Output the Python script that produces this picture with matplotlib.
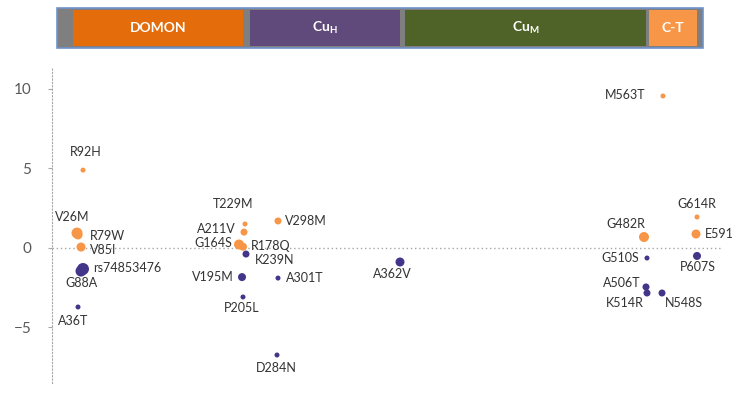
import matplotlib
matplotlib.use("Agg")
import matplotlib.pyplot as plt
from matplotlib.patches import Rectangle

plt.rcParams['font.family'] = ['Lato', 'DejaVu Sans']
plt.rcParams['mathtext.fontset'] = 'custom'
plt.rcParams['mathtext.rm'] = 'Lato'
plt.rcParams['mathtext.bf'] = 'Lato:bold'

# variants: name, position along the protein bar, score, size class, group
names = ["R92H", "V26M", "R79W", "V85I", "rs74853476", "G88A", "A36T",
         "T229M", "A211V", "G164S", "R178Q", "K239N", "V195M", "P205L",
         "V298M", "A301T", "D284N", "A362V",
         "M563T", "G614R", "G482R", "E591K", "G510S", "P607S",
         "A506T", "K514R", "N548S"]
pos = [31, 25, 26, 29, 31, 29, 26,
       193, 192, 187, 191, 194, 190, 191,
       226, 226, 225, 348,
       611, 645, 592, 644, 595, 645,
       594, 595, 610]
score = [4.87, 0.91, 0.79, 0.03, -1.35, -1.48, -3.74,
         1.48, 0.97, 0.19, 0.05, -0.41, -1.86, -3.11,
         1.67, -1.92, -6.76, -0.91,
         9.53, 1.92, 0.66, 0.85, -0.66, -0.53,
         -2.48, -2.86, -2.86]
size = [5, 11, 9, 9, 12, 11, 5,
        5, 7, 10, 8, 7, 8, 5,
        7, 5, 5, 9,
        5, 5, 10, 9, 5, 8,
        7, 7, 7]
group = ["o", "o", "o", "o", "p", "p", "p",
         "o", "o", "o", "o", "p", "p", "p",
         "o", "p", "p", "p",
         "o", "o", "o", "o", "p", "p",
         "p", "p", "p"]

# label offsets in pixels (dx, dy up) and alignment
offsets = {
    "R92H": (3, 18, "center"), "V26M": (-5, 16, "center"), "R79W": (12, -1, "left"),
    "V85I": (9, -3, "left"), "rs74853476": (10, 1, "left"), "G88A": (1, -12, "center"),
    "A36T": (-5, -14, "center"), "T229M": (-12, 20, "center"), "A211V": (-8, 3, "right"),
    "G164S": (-7, 2, "right"), "R178Q": (8, 1, "left"), "K239N": (9, -6, "left"),
    "V195M": (-8, 0, "right"), "P205L": (-1, -11, "center"), "V298M": (7, 0, "left"),
    "A301T": (8, 0, "left"), "D284N": (-1, -13, "center"), "A362V": (-8, -12, "center"),
    "M563T": (-18, 1, "right"), "G614R": (0, 13, "center"), "G482R": (-18, 13, "center"),
    "E591K": (9, 0, "left"), "G510S": (-8, 0, "right"), "P607S": (1, -11, "center"),
    "A506T": (-6, 4, "right"), "K514R": (-22, -10, "center"), "N548S": (22, -10, "center"),
}

# protein domains along the same position axis
dom_names = ["DOMON", r"$\mathbf{Cu_H}$", r"$\mathbf{Cu_M}$", "C-T"]
dom_start = [21, 198, 353, 597]
dom_end = [191, 348, 594, 645]
dom_colors = ["#E46C0A", "#604A7B", "#4F6228", "#F79646"]
bar_start, bar_end = 5, 651

colors = {"o": "#F79646", "p": "#43368A"}

W, H = 732, 403
fig = plt.figure(figsize=(W / 100, H / 100), dpi=100)
ax = fig.add_axes([52 / W, (H - 383) / H, (723 - 52) / W, (383 - 68) / H])
ax.set_xlim(0, 671)
ax.set_ylim(-8.52, 11.29)

for g in ["o", "p"]:
    xs = [p for p, gg in zip(pos, group) if gg == g]
    ys = [s for s, gg in zip(score, group) if gg == g]
    ss = [(d * 0.72) ** 2 for d, gg in zip(size, group) if gg == g]
    ax.scatter(xs, ys, s=ss, c=colors[g], edgecolors="none", zorder=3)

for n, x, y in zip(names, pos, score):
    dx, dy, ha = offsets[n]
    ax.annotate(n, (x, y), xytext=(dx, dy), textcoords="offset pixels",
                ha=ha, va="center", fontsize=9, color="#333333",
                annotation_clip=False)

ax.axhline(0, color="#A6A6A6", lw=1, ls=(0, (1, 2)), zorder=1)
for s in ["top", "right", "bottom"]:
    ax.spines[s].set_visible(False)
ax.spines["left"].set_color("#A6A6A6")
ax.spines["left"].set_linestyle((0, (1, 2)))
ax.set_xticks([])
ax.set_yticks([-5, 0, 5, 10])
ax.set_yticklabels(["\u22125", "0", "5", "10"])
ax.tick_params(axis="y", length=3, color="#A6A6A6", labelcolor="#595959",
               labelsize=11, pad=12)

# domain bar
bx = fig.add_axes([52 / W, (H - 48) / H, (723 - 52) / W, 40 / H])
bx.set_xlim(0, 671)
bx.set_ylim(0, 1)
bx.axis("off")
bx.add_patch(Rectangle((bar_start, 0), bar_end - bar_start, 1, facecolor="#7F7F7F",
                       edgecolor="#6F93CC", lw=1.2, clip_on=False))
for n, a, b, c in zip(dom_names, dom_start, dom_end, dom_colors):
    bx.add_patch(Rectangle((a, 0.06), b - a, 0.88, facecolor=c, edgecolor="none"))
    bx.text((a + b) / 2, 0.5, n, ha="center", va="center", color="white",
            fontsize=10, fontweight="bold")

fig.savefig("out.png", dpi=100)
